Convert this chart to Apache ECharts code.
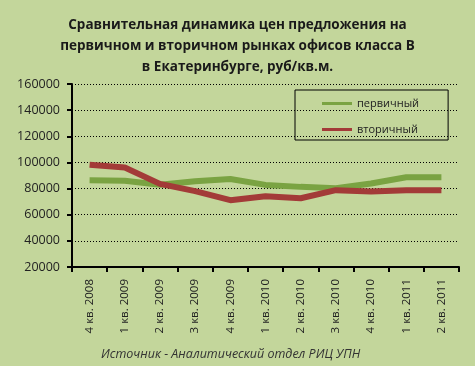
<!DOCTYPE html>
<html><head><meta charset="utf-8">
<script src="https://cdn.jsdelivr.net/npm/echarts@6/dist/echarts.min.js"></script>
<style>html,body{margin:0;padding:0;background:#c3d69b;}#c{width:475px;height:366px;}</style>
</head><body><div id="c"></div>
<script>
const categories = ['4 кв. 2008','1 кв. 2009','2 кв. 2009','3 кв. 2009','4 кв. 2009','1 кв. 2010','2 кв. 2010','3 кв. 2010','4 кв. 2010','1 кв. 2011','2 кв. 2011'];
const primary = [86300, 86000, 83000, 85600, 87300, 82800, 81300, 80300, 83900, 88600, 88600];
const secondary = [98200, 96100, 83600, 78000, 71100, 74200, 72600, 78800, 77700, 78800, 78800];
const yTicks = {min: 20000, max: 160000, interval: 20000};
const titleText = 'Сравнительная динамика цен предложения на\nпервичном и вторичном рынках офисов класса В\nв Екатеринбурге, руб/кв.м.';
const sourceText = 'Источник - Аналитический отдел РИЦ УПН';

const chart = echarts.init(document.getElementById('c'));
chart.setOption({
  backgroundColor: '#c3d69b',
  animation: false,
  textStyle: {fontFamily: 'Open Sans'},
  title: [{
    text: titleText, left: 'center', top: 10,
    textStyle: {fontFamily: 'Open Sans', fontSize: 13.5, fontWeight: 'bold', color: '#1a1a1a', lineHeight: 21}
  }, {
    text: sourceText, left: 96, top: 343,
    textStyle: {fontFamily: 'Open Sans', fontSize: 12.5, fontStyle: 'italic', fontWeight: 'normal', color: '#333'}
  }],
  legend: {
    orient: 'vertical', left: 295, top: 90,
    padding: [8, 29, 5, 27], itemGap: 15, itemWidth: 30, itemHeight: 3,
    icon: 'rect',
    borderColor: '#000', borderWidth: 1,
    textStyle: {fontSize: 11, color: '#222'},
    data: ['первичный', 'вторичный']
  },
  grid: {left: 72, right: 16, top: 84, bottom: 99},
  xAxis: {
    type: 'category', data: categories, boundaryGap: true,
    axisLine: {lineStyle: {color: '#000', width: 2}},
    axisTick: {show: true, length: 5, lineStyle: {color: '#000', width: 2}},
    axisLabel: {rotate: 90, fontSize: 11.5, color: '#222', margin: 12}
  },
  yAxis: {
    type: 'value', min: yTicks.min, max: yTicks.max, interval: yTicks.interval,
    axisLine: {show: true, lineStyle: {color: '#000', width: 2}},
    axisTick: {show: true, length: 5, lineStyle: {color: '#000', width: 2}},
    axisLabel: {fontSize: 12.5, color: '#222', margin: 12, formatter: v => String(v)},
    splitLine: {lineStyle: {color: '#000', type: [1, 2], width: 1}}
  },
  series: [{
    name: 'первичный', type: 'line', data: primary, symbol: 'none',
    lineStyle: {width: 6, color: '#7aa342'}, itemStyle: {color: '#7aa342'}
  }, {
    name: 'вторичный', type: 'line', data: secondary, symbol: 'none',
    lineStyle: {width: 6, color: '#a33b38'}, itemStyle: {color: '#a33b38'}
  }]
});
</script></body></html>
